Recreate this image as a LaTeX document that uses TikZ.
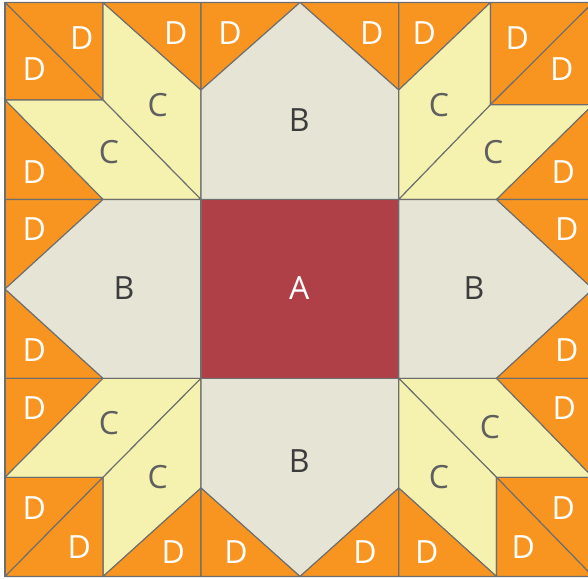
\documentclass[tikz,border=0pt]{standalone}
\usepackage{fontspec}
\setmainfont{Open Sans}
\definecolor{dorange}{RGB}{247,149,32}
\definecolor{cyellow}{RGB}{245,242,176}
\definecolor{bbeige}{RGB}{230,229,213}
\definecolor{ared}{RGB}{176,64,72}
\definecolor{edgegray}{RGB}{110,110,110}
\definecolor{bgray}{RGB}{60,60,60}
\definecolor{cgray}{RGB}{95,95,95}
\begin{document}
\begin{tikzpicture}[x=1pt,y=-1pt,
  piece/.style={draw=edgegray, line width=1.1pt, line join=round},
  dpc/.style={piece, fill=dorange},
  cpc/.style={piece, fill=cyellow},
  bpc/.style={piece, fill=bbeige},
  apc/.style={piece, fill=ared},
  lbl/.style={font=\fontsize{32}{38}\selectfont, inner sep=0pt},
  dl/.style={lbl, text=white},
  cl/.style={lbl, text=cgray},
  bl/.style={lbl, text=bgray},
  al/.style={lbl, text=white}]
\useasboundingbox (0,0) rectangle (588,578);
\fill[white] (0,0) rectangle (588,578);
\clip (0,0) rectangle (588,578);
% grid
\def\Xa{5}\def\Xb{103}\def\Xc{201}\def\Xd{300}\def\Xe{398.7}\def\Xf{496.5}\def\E{593}
\def\Ya{2.5}\def\Yb{100}\def\Yc{199.5}\def\Ym{289}\def\Yd{378.3}\def\Ye{477.3}\def\Yf{576.5}
\def\Nt{90}\def\Nb{488}
\def\Tx{490.5}\def\Ty{104.7}
% ---- top-left quadrant
\filldraw[dpc] (\Xa,\Ya) -- (\Xb,\Ya) -- (\Xb,\Yb) -- cycle;
\filldraw[dpc] (\Xa,\Ya) -- (\Xb,\Yb) -- (\Xa,\Yb) -- cycle;
\filldraw[cpc] (\Xb,\Ya) -- (\Xc,\Nt) -- (\Xc,\Yc) -- (\Xb,\Yb) -- cycle;
\filldraw[dpc] (\Xb,\Ya) -- (\Xc,\Ya) -- (\Xc,\Nt) -- cycle;
\filldraw[cpc] (\Xa,\Yb) -- (\Xb,\Yb) -- (\Xc,\Yc) -- (\Xb,\Yc) -- cycle;
\filldraw[dpc] (\Xa,\Yb) -- (\Xb,\Yc) -- (\Xa,\Yc) -- cycle;
% ---- top middle
\filldraw[dpc] (\Xc,\Ya) -- (\Xd,\Ya) -- (\Xc,\Nt) -- cycle;
\filldraw[dpc] (\Xd,\Ya) -- (\Xe,\Ya) -- (\Xe,\Nt) -- cycle;
\filldraw[bpc] (\Xc,\Yc) -- (\Xc,\Nt) -- (\Xd,\Ya) -- (\Xe,\Nt) -- (\Xe,\Yc) -- cycle;
% ---- top-right quadrant
\filldraw[dpc] (\Xe,\Ya) -- (\Tx,\Ya) -- (\Xe,\Nt) -- cycle;
\filldraw[cpc] (\Xe,\Nt) -- (\Tx,\Ya) -- (\Tx,\Ty) -- (\Xe,\Yc) -- cycle;
\filldraw[dpc] (\Tx,\Ya) -- (\E,\Ya) -- (\Tx,\Ty) -- cycle;
\filldraw[dpc] (\Tx,\Ty) -- (\E,\Ya) -- (\E,\Ty) -- cycle;
\filldraw[cpc] (\Xe,\Yc) -- (\Tx,\Ty) -- (\E,\Ty) -- (\Xf,\Yc) -- cycle;
\filldraw[dpc] (\Xf,\Yc) -- (\E,\Ty) -- (\E,\Yc) -- cycle;
% ---- middle row
\filldraw[dpc] (\Xa,\Yc) -- (\Xb,\Yc) -- (\Xa,\Ym) -- cycle;
\filldraw[dpc] (\Xa,\Ym) -- (\Xb,\Yd) -- (\Xa,\Yd) -- cycle;
\filldraw[bpc] (\Xa,\Ym) -- (\Xb,\Yc) -- (\Xc,\Yc) -- (\Xc,\Yd) -- (\Xb,\Yd) -- cycle;
\filldraw[apc] (\Xc,\Yc) rectangle (\Xe,\Yd);
\filldraw[bpc] (\Xe,\Yc) -- (\Xf,\Yc) -- (\E,\Ym) -- (\Xf,\Yd) -- (\Xe,\Yd) -- cycle;
\filldraw[dpc] (\Xf,\Yc) -- (\E,\Yc) -- (\E,\Ym) -- cycle;
\filldraw[dpc] (\E,\Ym) -- (\E,\Yd) -- (\Xf,\Yd) -- cycle;
% ---- bottom-left quadrant
\filldraw[dpc] (\Xa,\Yd) -- (\Xb,\Yd) -- (\Xa,\Ye) -- cycle;
\filldraw[cpc] (\Xa,\Ye) -- (\Xb,\Yd) -- (\Xc,\Yd) -- (\Xb,\Ye) -- cycle;
\filldraw[cpc] (\Xb,\Ye) -- (\Xc,\Yd) -- (\Xc,\Nb) -- (\Xb,\Yf) -- cycle;
\filldraw[dpc] (\Xa,\Ye) -- (\Xb,\Ye) -- (\Xa,\Yf) -- cycle;
\filldraw[dpc] (\Xb,\Ye) -- (\Xb,\Yf) -- (\Xa,\Yf) -- cycle;
\filldraw[dpc] (\Xb,\Yf) -- (\Xc,\Nb) -- (\Xc,\Yf) -- cycle;
% ---- bottom middle
\filldraw[bpc] (\Xc,\Yd) -- (\Xe,\Yd) -- (\Xe,\Nb) -- (\Xd,\Yf) -- (\Xc,\Nb) -- cycle;
\filldraw[dpc] (\Xc,\Nb) -- (\Xd,\Yf) -- (\Xc,\Yf) -- cycle;
\filldraw[dpc] (\Xe,\Nb) -- (\Xe,\Yf) -- (\Xd,\Yf) -- cycle;
% ---- bottom-right quadrant
\filldraw[cpc] (\Xe,\Yd) -- (\Xf,\Yd) -- (\E,\Ye) -- (\Xf,\Ye) -- cycle;
\filldraw[dpc] (\Xf,\Yd) -- (\E,\Yd) -- (\E,\Ye) -- cycle;
\filldraw[cpc] (\Xe,\Yd) -- (\Xf,\Ye) -- (\Xf,\Yf) -- (\Xe,\Nb) -- cycle;
\filldraw[dpc] (\Xe,\Nb) -- (\Xf,\Yf) -- (\Xe,\Yf) -- cycle;
\filldraw[dpc] (\Xf,\Ye) -- (\E,\Ye) -- (\E,\Yf) -- cycle;
\filldraw[dpc] (\Xf,\Ye) -- (\E,\Yf) -- (\Xf,\Yf) -- cycle;
% outer border
\draw[draw=edgegray, line width=1.4pt] (\Xa,\Ya) rectangle (\E,\Yf);
% ---- labels
\node[dl] (d1) at (81.7,38.3) {D};
\node[dl] (d2) at (34.3,69.3) {D};
\node[cl] (c1) at (157.7,105) {C};
\node[cl] (c2) at (109,151.7) {C};
\node[dl] (d3) at (34.3,171.7) {D};
\node[dl] (d4) at (175.7,33.3) {D};
\node[dl] (d5) at (230,32.7) {D};
\node[dl] (d6) at (371.7,32.7) {D};
\node[bl] (b1) at (299.3,120) {B};
\node[dl] (d7) at (424.3,33.3) {D};
\node[dl] (d8) at (517.3,38.3) {D};
\node[dl] (d9) at (561.7,69.3) {D};
\node[cl] (c3) at (439,105) {C};
\node[cl] (c4) at (493.3,151.7) {C};
\node[dl] (d10) at (563.3,171.7) {D};
\node[dl] (d11) at (34.3,229.3) {D};
\node[bl] (b2) at (124,288.3) {B};
\node[dl] (d12) at (34.3,350) {D};
\node[al] (a1) at (299.3,288.3) {A};
\node[bl] (b3) at (474,288.3) {B};
\node[dl] (d13) at (566.7,229.3) {D};
\node[dl] (d14) at (566.7,350) {D};
\node[dl] (d15) at (34.3,407.7) {D};
\node[cl] (c5) at (109,423.3) {C};
\node[cl] (c6) at (157.7,477.3) {C};
\node[dl] (d16) at (34.3,507.7) {D};
\node[dl] (d17) at (79.3,546.7) {D};
\node[dl] (d18) at (173.3,551.7) {D};
\node[bl] (b4) at (299.3,461) {B};
\node[dl] (d19) at (236,551.7) {D};
\node[dl] (d20) at (365,551.7) {D};
\node[cl] (c7) at (490,426.7) {C};
\node[dl] (d21) at (564.3,407.7) {D};
\node[cl] (c8) at (439,477.3) {C};
\node[dl] (d22) at (426.7,551.7) {D};
\node[dl] (d23) at (563.3,507.7) {D};
\node[dl] (d24) at (523.3,546.7) {D};
\end{tikzpicture}
\end{document}
